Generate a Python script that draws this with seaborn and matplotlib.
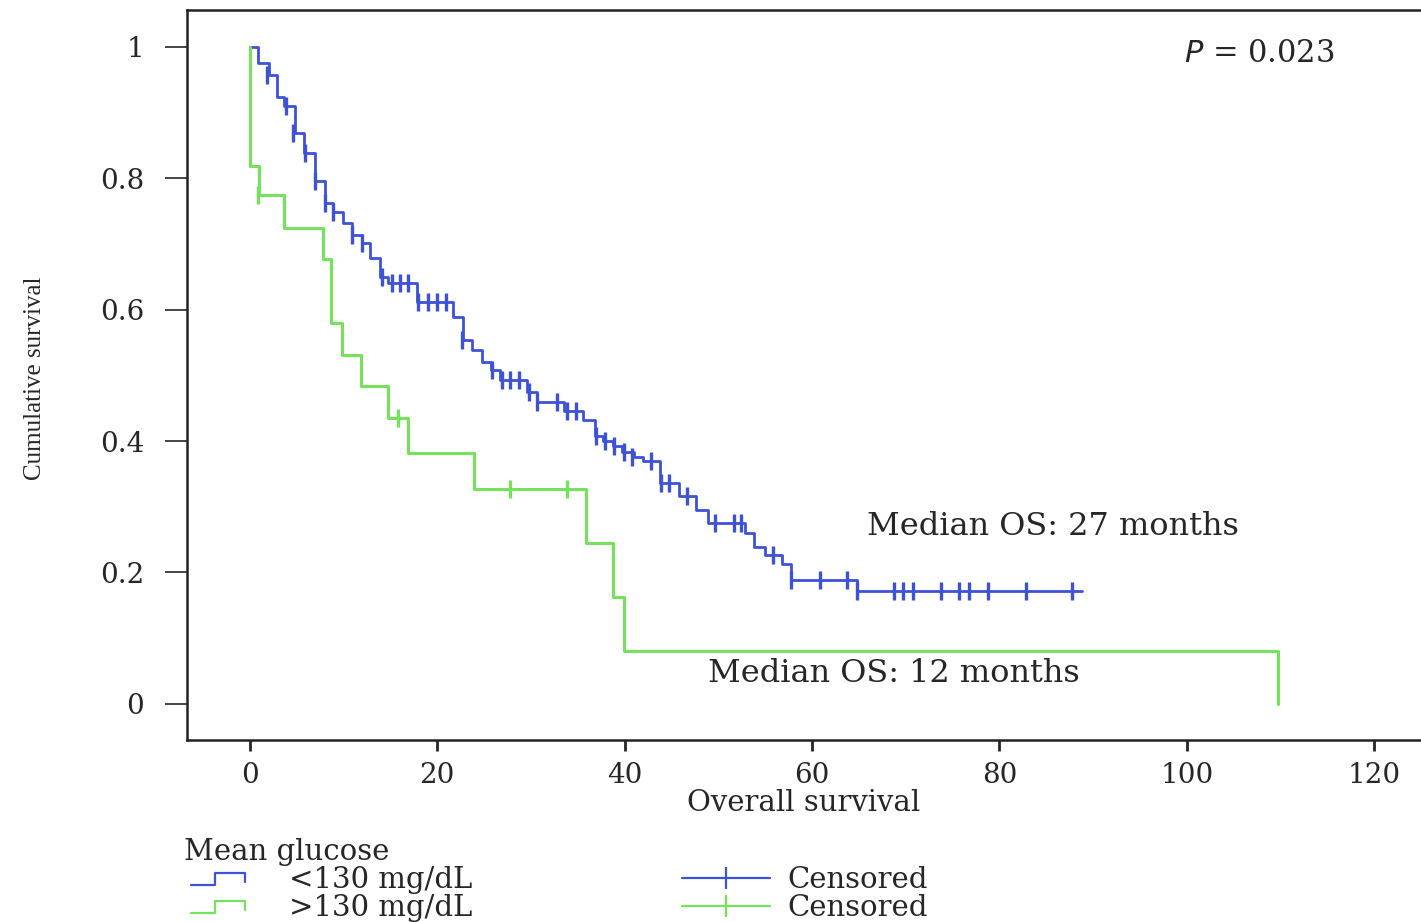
import numpy as np
import pandas as pd
import seaborn as sns
import matplotlib
matplotlib.use("Agg")
from matplotlib import pyplot as plt
from matplotlib.lines import Line2D
from matplotlib.legend_handler import HandlerBase

# Kaplan-Meier steps (time in months, survival after the drop)
low_time = [0, 0.9, 2.0, 2.9, 3.7, 4.8, 5.8, 7.0, 8.0, 8.9, 10.0, 10.9, 12.0, 12.8,
            13.9, 14.8, 17.8, 21.7, 22.8, 23.7, 24.8, 25.7, 26.7, 29.6, 30.7, 33.5,
            35.6, 36.8, 37.7, 38.8, 39.7, 41.0, 42.0, 43.8, 45.8, 47.6, 48.9, 52.8,
            53.8, 55.0, 56.8, 57.8, 64.8, 88.8]
low_surv = [1.0, 0.975, 0.957, 0.924, 0.910, 0.869, 0.838, 0.795, 0.762, 0.749, 0.732,
            0.714, 0.701, 0.679, 0.650, 0.640, 0.612, 0.589, 0.554, 0.539, 0.521, 0.508,
            0.493, 0.475, 0.460, 0.445, 0.432, 0.407, 0.400, 0.392, 0.384, 0.376, 0.369,
            0.336, 0.316, 0.295, 0.275, 0.260, 0.239, 0.227, 0.213, 0.189, 0.172, 0.172]

low_cens_time = [1.8, 3.9, 4.6, 5.9, 7.0, 8.0, 8.9, 10.9, 12.0, 14.1, 15.2, 16.0, 16.9,
                 18.0, 19.0, 20.0, 20.9, 22.6, 25.9, 26.9, 27.8, 28.7, 29.8, 30.7, 32.8,
                 33.9, 34.8, 36.9, 37.9, 38.9, 39.9, 40.8, 42.8, 43.9, 44.7, 46.7, 49.7,
                 51.7, 52.4, 55.8, 57.8, 60.9, 63.7, 64.8, 68.8, 69.7, 70.8, 73.8, 75.7,
                 76.8, 78.8, 82.8, 87.7]
low_cens_surv = [0.957, 0.910, 0.869, 0.838, 0.795, 0.762, 0.749, 0.714, 0.701, 0.650,
                 0.640, 0.640, 0.640, 0.612, 0.612, 0.612, 0.612, 0.554, 0.508, 0.493,
                 0.493, 0.493, 0.475, 0.460, 0.460, 0.445, 0.445, 0.407, 0.400, 0.392,
                 0.384, 0.376, 0.369, 0.336, 0.336, 0.316, 0.275, 0.275, 0.275, 0.227,
                 0.189, 0.189, 0.189, 0.172, 0.172, 0.172, 0.172, 0.172, 0.172, 0.172,
                 0.172, 0.172, 0.172]

high_time = [0, 0.05, 1.0, 3.7, 7.8, 8.7, 9.8, 11.9, 14.8, 16.9, 23.9, 35.9, 38.8, 39.9, 109.7]
high_surv = [1.0, 0.819, 0.775, 0.724, 0.677, 0.580, 0.531, 0.483, 0.435, 0.382, 0.327,
             0.245, 0.163, 0.081, 0.0]

high_cens_time = [0.9, 15.8, 27.8, 33.9]
high_cens_surv = [0.775, 0.435, 0.327, 0.327]

x_ticks = [0, 20, 40, 60, 80, 100, 120]
y_ticks = [0, 0.2, 0.4, 0.6, 0.8, 1]
y_tick_labels = ["0", "0.2", "0.4", "0.6", "0.8", "1"]

blue = "#3d52d6"
green = "#74e25a"
serif = ["DejaVu Serif"]

sns.set_style("white")
plt.rcParams["font.family"] = serif

fig = plt.figure(figsize=(14.21, 9.22), dpi=100)
ax = fig.add_axes([187 / 1421, 1 - 740 / 922, 1 - 187 / 1421, 730 / 922])

low_df = pd.DataFrame({"t": low_time, "s": low_surv})
high_df = pd.DataFrame({"t": high_time, "s": high_surv})
sns.lineplot(data=low_df, x="t", y="s", ax=ax, color=blue, lw=2,
             drawstyle="steps-post", estimator=None, sort=False)
sns.lineplot(data=high_df, x="t", y="s", ax=ax, color=green, lw=2.2,
             drawstyle="steps-post", estimator=None, sort=False)

sns.scatterplot(x=low_cens_time, y=low_cens_surv, ax=ax, marker="|", s=170,
                color=blue, linewidth=2.4, zorder=3)
sns.scatterplot(x=high_cens_time, y=high_cens_surv, ax=ax, marker="|", s=170,
                color=green, linewidth=2.4, zorder=3)

ax.set_xlim(-6.7, 125)
ax.set_ylim(-0.055, 1.056)
ax.set_xticks(x_ticks)
ax.set_yticks(y_ticks)
ax.set_yticklabels(y_tick_labels)
ax.tick_params(axis="x", length=8, width=2, pad=8, labelsize=20, direction="out", bottom=True)
ax.tick_params(axis="y", length=16, width=1.2, pad=15, labelsize=20, direction="out", left=True)
for side in ["left", "bottom", "top"]:
    ax.spines[side].set_linewidth(1.8)
    ax.spines[side].set_color("#222222")
ax.spines["right"].set_visible(False)

ax.set_xlabel("Overall survival", fontsize=21, labelpad=0)
ax.set_ylabel("")
fig.text(35 / 1421, 1 - 378 / 922, "Cumulative survival", rotation=90, ha="center",
         va="center", fontsize=18, family=["Liberation Serif"])

ax.text(107.7, 0.99, "$P$ = 0.023", fontsize=22, ha="center", va="center")
ax.text(85.7, 0.27, "Median OS: 27 months", fontsize=23, ha="center", va="center")
ax.text(68.7, 0.046, "Median OS: 12 months", fontsize=23, ha="center", va="center")


class StepIcon(HandlerBase):
    def create_artists(self, legend, orig_handle, xdescent, ydescent, width, height,
                       fontsize, trans):
        x0, y0 = -xdescent, -ydescent
        xs = [x0 + 0.08 * width, x0 + 0.35 * width, x0 + 0.35 * width,
              x0 + 0.7 * width, x0 + 0.7 * width]
        ys = [y0 + 0.15 * height, y0 + 0.15 * height, y0 + 0.75 * height,
              y0 + 0.75 * height, y0 + 0.3 * height]
        line = Line2D(xs, ys, color=orig_handle.get_color(), lw=1.6)
        line.set_transform(trans)
        return [line]


h_low = Line2D([], [], color=blue)
h_high = Line2D([], [], color=green)
c_low = Line2D([], [], color=blue, lw=1.6, marker="|", markersize=16, markeredgewidth=1.6)
c_high = Line2D([], [], color=green, lw=1.6, marker="|", markersize=16, markeredgewidth=1.6)

fig.legend([h_low, h_high, c_low, c_high],
           ["<130 mg/dL", ">130 mg/dL", "Censored", "Censored"],
           handler_map={h_low: StepIcon(), h_high: StepIcon()},
           title="Mean glucose", title_fontsize=21, fontsize=21, ncol=2,
           loc="upper left", bbox_to_anchor=(184 / 1421, 1 - 838 / 922),
           frameon=False, alignment="left", borderpad=0, labelspacing=0.0,
           handlelength=3.0, handletextpad=0.6, columnspacing=7.2, borderaxespad=0)

fig.savefig("out.png", dpi=100)
